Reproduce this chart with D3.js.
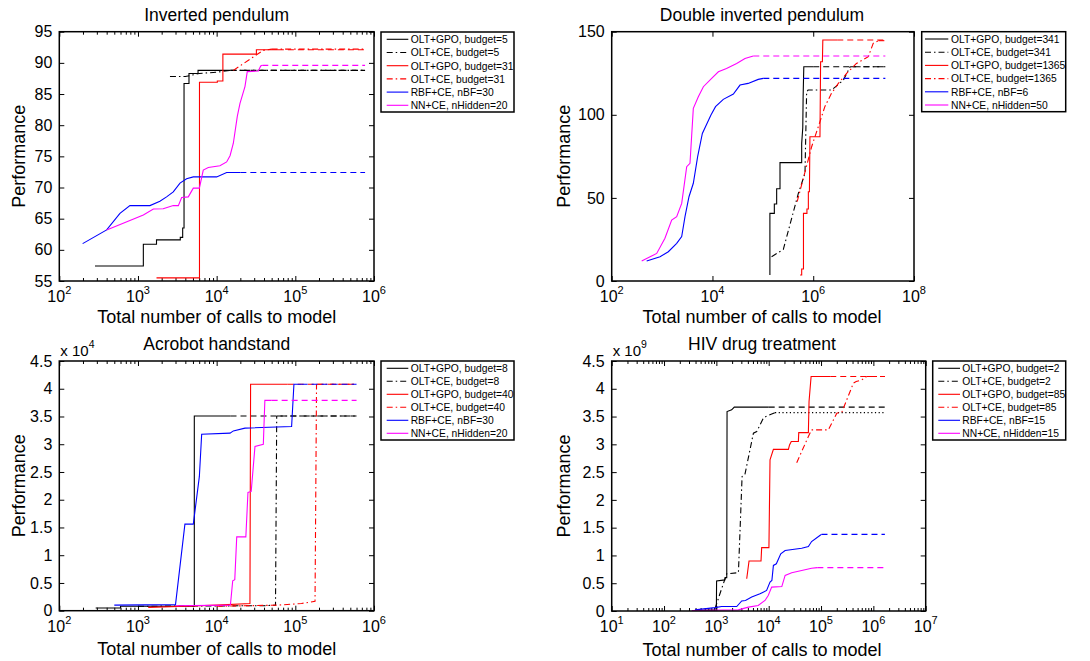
<!DOCTYPE html>
<html lang="en">
<head>
<meta charset="UTF-8">
<title>Performance vs total number of calls to model</title>
<script src="https://d3js.org/d3.v7.min.js"></script>
<style>
  body { margin: 0; background: #fff; }
  svg text { font-family: "Liberation Sans", Arial, Helvetica, sans-serif; fill: #000; }
</style>
</head>
<body>
<svg id="chart" width="1090" height="661"></svg>
<script>
// ---------------- data ----------------
// each series: [calls, performance] points of the drawn part; a dashed
// horizontal extension continues from the last point to the panel's end value

// Inverted pendulum
const ipLabels = ["OLT+GPO, budget=5", "OLT+CE, budget=5", "OLT+GPO, budget=31",
                  "OLT+CE, budget=31", "RBF+CE, nBF=30", "NN+CE, nHidden=20"];
const ipGpo5 = [[284,57.4],[1170,57.4],[1170,60.9],[1720,60.9],[1720,61.6],[3450,61.6],[3450,62],
                [3700,62],[3700,63.5],[3850,63.5],[3850,86.7],[4450,86.7],[4450,88.3],[5800,88.3],
                [5800,88.8],[1.5e4,88.8]];
const ipCe5 = [[2550,87.8],[4000,87.8],[6000,88.3],[1e4,88.5],[1.5e4,88.8]];
const ipGpo31 = [[1720,55.5],[6050,55.5],[6050,86.9],[1.02e4,86.9],[1.02e4,87.1],[1.2e4,87.1],
                 [1.2e4,91.4],[3.2e4,91.4],[3.2e4,92.1],[6e4,92.1]];
const ipCe31 = [[1.63e4,88.8],[3.9e4,92.0],[5e4,92.2]];
const ipRbf = [[198,61.0],[400,63.2],[590,65.85],[790,67.1],[1420,67.1],[1900,67.8],[2310,68.5],
               [2810,69.3],[3420,70.7],[4150,71.4],[5050,71.7],[1e4,71.7],[1.34e4,72.4],[2e4,72.4]];
const ipNn = [[400,63.2],[1170,65.6],[1570,66.55],[2090,66.6],[2810,67.1],[3260,67.1],[3590,68.4],
              [4360,68.5],[5050,69.9],[6030,69.9],[6760,72.8],[7830,73.2],[1.1e4,73.5],[1.34e4,74.1],
              [1.48e4,75.1],[1.63e4,77.1],[1.83e4,81.4],[1.98e4,83.5],[2.29e4,86.2],[2.45e4,88.6],
              [3.39e4,88.7],[3.63e4,89.5],[3.8e4,89.6]];
const ipEnd = 7.7e5;
const ipXExp = [2, 3, 4, 5, 6];
const ipYTicks = [55, 60, 65, 70, 75, 80, 85, 90, 95];

// Double inverted pendulum
const dipLabels = ["OLT+GPO, budget=341", "OLT+CE, budget=341", "OLT+GPO, budget=1365",
                   "OLT+CE, budget=1365", "RBF+CE, nBF=6", "NN+CE, nHidden=50"];
const dipGpo341 = [[1.38e5,3.6],[1.38e5,40.7],[1.69e5,40.7],[1.69e5,46.3],[1.88e5,46.3],[1.88e5,55.5],
                   [2.19e5,55.5],[2.19e5,71.2],[5.9e5,71.2],[5.9e5,82.8],[6.2e5,92.2],[6.3e5,110.9],
                   [6.5e5,128.9],[1e6,128.9]];
const dipCe341 = [[1.49e5,14.6],[2.55e5,19.0],[5.06e5,52.7],[6.86e5,64.8],[7.4e5,113.9],[7.9e5,114.9],
                  [2.32e6,114.9],[3.97e6,120.9],[5.4e6,128.9]];
const dipGpo1365 = [[5.5e5,3.6],[5.9e5,3.6],[5.9e5,7.2],[6.4e5,7.2],[6.4e5,40.7],[7.5e5,40.7],
                    [7.5e5,43.3],[8.0e5,43.3],[8.0e5,53.7],[8.4e5,53.7],[8.6e5,86.8],[1.36e6,86.8],
                    [1.4e6,131.9],[1.52e6,131.9],[1.55e6,145],[3e6,145]];
const dipCe1365 = [[4.8e5,47.7],[9.3e5,80.8],[1.26e6,92.8],[1.7e6,104.9],[2.3e6,112.9],[3.15e6,118.9],
                   [4.6e6,124.9],[7.2e6,130.9],[1.24e7,135],[1.55e7,143],[1.96e7,144.6]];
const dipRbf = [[494,12.0],[911,14.6],[1330,17.6],[1950,22.7],[2450,26.7],[2850,38.7],[3420,50.7],
                [4170,58.8],[5080,74.8],[6300,88.8],[9330,99.9],[1.15e4,104.9],[1.64e4,109.3],
                [2.6e4,112.5],[3.52e4,117.9],[5.1e4,118.9],[8.1e4,121.3],[1.02e5,121.9]];
const dipNn = [[394,12.0],[782,16.6],[1140,25.7],[1550,36.7],[1950,38.7],[2450,46.7],[3080,68.8],
               [3580,70.8],[4170,103.9],[5240,110.9],[6600,116.9],[9640,121.9],[1.31e4,125.9],
               [1.9e4,127.9],[3.02e4,130.9],[4.42e4,133.9],[6.46e4,135.4]];
const dipEnd = 2.7e7;
const dipXExp = [2, 4, 6, 8];
const dipYTicks = [0, 50, 100, 150];

// Acrobot handstand (performance in units of 1e4)
const acLabels = ["OLT+GPO, budget=8", "OLT+CE, budget=8", "OLT+GPO, budget=40",
                  "OLT+CE, budget=40", "RBF+CE, nBF=30", "NN+CE, nHidden=20"];
const acGpo8 = [[290,0.05],[600,0.05],[600,0.08],[5200,0.08],[5200,3.51],[1.5e4,3.51]];
const acCe8 = [[1000,0.08],[4e4,0.09],[5.6e4,0.1],[5.8e4,3.51]];
const acGpo40 = [[1350,0.06],[4000,0.08],[1e4,0.1],[2.65e4,0.13],[2.7e4,4.08],[8e4,4.08]];
const acCe40 = [[1e4,0.08],[6e4,0.1],[1.2e5,0.13],[1.78e5,0.17],[1.86e5,4.08]];
const acRbf = [[500,0.1],[3000,0.11],[3950,1.56],[5050,1.56],[6030,2.42],[6450,3.18],[1.48e4,3.2],
               [1.63e4,3.24],[2.29e4,3.29],[8.97e4,3.32],[9.6e4,4.08],[1.2e5,4.08]];
const acNn = [[3000,0.09],[1.48e4,0.1],[1.5e4,0.12],[1.6e4,0.54],[1.7e4,0.56],[1.8e4,1.33],
              [2.35e4,1.33],[2.5e4,2.13],[2.75e4,2.15],[3.07e4,2.96],[3.92e4,3.0],[4.1e4,3.79],
              [5e4,3.79]];
const acEnd = 6.0e5;
const acXExp = [2, 3, 4, 5, 6];
const acYTicks = [0, 0.5, 1, 1.5, 2, 2.5, 3, 3.5, 4, 4.5];

// HIV drug treatment (performance in units of 1e9)
const hivLabels = ["OLT+GPO, budget=2", "OLT+CE, budget=2", "OLT+GPO, budget=85",
                   "OLT+CE, budget=85", "RBF+CE, nBF=15", "NN+CE, nHidden=15"];
const hivGpo2 = [[400,0.01],[1000,0.02],[1010,0.54],[1450,0.56],[1470,0.6],[1580,0.6],[1600,3.59],
                 [1960,3.62],[2200,3.67],[1e4,3.67]];
const hivCe2 = [[940,0.04],[1170,0.31],[1580,0.67],[2640,0.69],[3100,2.42],[3500,2.45],[5100,3.2],
                [5900,3.23],[7900,3.47],[9120,3.51],[1.32e4,3.57]];
const hivGpo85 = [[3800,0.58],[4210,0.9],[7130,0.9],[7340,1.14],[1.01e4,1.14],[1.06e4,2.72],
                  [1.23e4,2.91],[2.38e4,2.91],[2.5e4,2.99],[2.7e4,3.05],[3.69e4,3.05],[3.75e4,3.21],
                  [5.73e4,3.21],[5.9e4,3.77],[6.46e4,4.22],[1.5e5,4.22]];
const hivCe85 = [[3.43e4,2.67],[5.73e4,3.14],[6.6e4,3.26],[1.38e5,3.26],[2e5,3.56],[2.5e5,3.58],
                 [4.15e5,4.1],[4.7e5,4.13],[6e5,4.16],[7.4e5,4.22]];
const hivRbf = [[390,0.02],[940,0.06],[1260,0.08],[2450,0.08],[3050,0.18],[3600,0.19],[4730,0.25],
                [6820,0.31],[9120,0.37],[1.06e4,0.52],[1.15e4,0.55],[1.23e4,0.82],[1.4e4,0.85],
                [1.7e4,1.03],[2.06e4,1.09],[4.27e4,1.13],[5.73e4,1.16],[6.6e4,1.25],[9.5e4,1.36],
                [1.02e5,1.38]];
const hivNn = [[340,0.01],[2630,0.02],[4100,0.07],[6300,0.1],[8500,0.19],[9800,0.28],[1.14e4,0.43],
               [1.78e4,0.44],[2.06e4,0.64],[2.75e4,0.69],[4.27e4,0.73],[6.6e4,0.77],[8.5e4,0.78]];
const hivEnd = 1.66e6;
const hivXExp = [1, 2, 3, 4, 5, 6, 7];
const hivYTicks = [0, 0.5, 1, 1.5, 2, 2.5, 3, 3.5, 4, 4.5];

// ---------------- styles ----------------
const DASHDOT = "6,3,1.5,3";
const seriesStyle = [
  { color: "#000", dash: null,    ext: "6,4" },
  { color: "#000", dash: DASHDOT, ext: DASHDOT },
  { color: "#f00", dash: null,    ext: "6,4" },
  { color: "#f00", dash: DASHDOT, ext: DASHDOT },
  { color: "#00f", dash: null,    ext: "6,4" },
  { color: "#f0f", dash: null,    ext: "6,4" }
];

// ---------------- layout ----------------
const panels = [
  { title: "Inverted pendulum", labels: ipLabels, series: [ipGpo5, ipCe5, ipGpo31, ipCe31, ipRbf, ipNn],
    end: ipEnd, xExp: ipXExp, minor: true, yDomain: [55, 95], yTicks: ipYTicks, mult: null,
    box: [59.3, 31.7, 374, 281], leg: [381, 32, 514, 112], legLine: [386.7, 408.3], legText: 410.7,
    titleX: 216.7, titleY: 21, xlabX: 216.7, xlabY: 323, ylabX: 25 },
  { title: "Double inverted pendulum", labels: dipLabels, series: [dipGpo341, dipCe341, dipGpo1365, dipCe1365, dipRbf, dipNn],
    end: dipEnd, xExp: dipXExp, minor: false, yDomain: [0, 150], yTicks: dipYTicks, mult: null,
    box: [611.7, 31.7, 914, 281], leg: [921.7, 31.7, 1065.7, 111.7], legLine: [925, 948.3], legText: 951,
    titleX: 762, titleY: 21, xlabX: 762, xlabY: 323, ylabX: 570 },
  { title: "Acrobot handstand", labels: acLabels, series: [acGpo8, acCe8, acGpo40, acCe40, acRbf, acNn],
    end: acEnd, xExp: acXExp, minor: true, yDomain: [0, 4.5], yTicks: acYTicks, mult: "4",
    box: [59.3, 361, 374, 610.7], leg: [381, 361, 514, 440], legLine: [386.7, 408.3], legText: 410.7,
    titleX: 216.7, titleY: 350, xlabX: 216.7, xlabY: 655, ylabX: 25 },
  { title: "HIV drug treatment", labels: hivLabels, series: [hivGpo2, hivCe2, hivGpo85, hivCe85, hivRbf, hivNn],
    end: hivEnd, xExp: hivXExp, minor: true, yDomain: [0, 4.5], yTicks: hivYTicks, mult: "9",
    box: [611.7, 361, 925.7, 611], leg: [932.7, 361, 1065.7, 440], legLine: [938.3, 960], legText: 962.3,
    titleX: 762, titleY: 350, xlabX: 762, xlabY: 656, ylabX: 570, dottedExt: 1 }
];

const svg = d3.select("#chart");
const FONT = '"Liberation Sans", Arial, Helvetica, sans-serif';

panels.forEach(p => {
  const [x0, y0, x1, y1] = p.box;
  const g = svg.append("g");
  const lo = p.xExp[0], hi = p.xExp[p.xExp.length - 1];
  const x = d3.scaleLog().domain([Math.pow(10, lo), Math.pow(10, hi)]).range([x0, x1]);
  const y = d3.scaleLinear().domain(p.yDomain).range([y1, y0]);

  const majors = p.xExp.map(e => Math.pow(10, e));
  const minors = [];
  if (p.minor) {
    for (let e = lo; e < hi; e++) for (let m = 2; m <= 9; m++) minors.push(m * Math.pow(10, e));
  }

  const styleAxis = a => {
    a.select(".domain").remove();
    a.selectAll(".tick line").attr("stroke", "#000").attr("stroke-width", 1);
  };

  // x ticks, bottom and top, pointing inwards
  g.append("g").attr("transform", `translate(0,${y1})`)
    .call(d3.axisBottom(x).tickValues(majors).tickSize(-5).tickFormat("")).call(styleAxis);
  g.append("g").attr("transform", `translate(0,${y0})`)
    .call(d3.axisTop(x).tickValues(majors).tickSize(-5).tickFormat("")).call(styleAxis);
  if (minors.length) {
    g.append("g").attr("transform", `translate(0,${y1})`)
      .call(d3.axisBottom(x).tickValues(minors).tickSize(-3).tickFormat("")).call(styleAxis);
    g.append("g").attr("transform", `translate(0,${y0})`)
      .call(d3.axisTop(x).tickValues(minors).tickSize(-3).tickFormat("")).call(styleAxis);
  }

  // y ticks, left with labels and right
  const yl = g.append("g").attr("transform", `translate(${x0},0)`)
    .call(d3.axisLeft(y).tickValues(p.yTicks).tickSize(-5).tickPadding(7).tickFormat(d => String(d)))
    .call(styleAxis);
  yl.attr("font-family", FONT).attr("font-size", 16);
  g.append("g").attr("transform", `translate(${x1},0)`)
    .call(d3.axisRight(y).tickValues(p.yTicks).tickSize(-5).tickFormat("")).call(styleAxis);

  // x tick labels 10^k
  majors.forEach((v, i) => {
    const t = g.append("text").attr("x", x(v)).attr("y", y1 + 21)
      .attr("text-anchor", "middle").attr("font-size", 16);
    t.append("tspan").text("10");
    t.append("tspan").attr("dy", -8).attr("font-size", 11).text(String(p.xExp[i]));
  });

  // multiplier label
  if (p.mult) {
    const t = g.append("text").attr("x", x0 + 1).attr("y", y0 - 5).attr("font-size", 15);
    t.append("tspan").text("x 10");
    t.append("tspan").attr("dy", -8).attr("font-size", 10.5).text(p.mult);
  }

  // series
  const line = d3.line().x(d => x(d[0])).y(d => y(d[1]));
  p.series.forEach((pts, i) => {
    const s = seriesStyle[i];
    const last = pts[pts.length - 1];
    const ext = (p.dottedExt === i) ? "1.2,2.5" : s.ext;
    g.append("path").datum([last, [p.end, last[1]]]).attr("d", line)
      .attr("fill", "none").attr("stroke", s.color).attr("stroke-width", 1.1)
      .attr("stroke-dasharray", ext);
    g.append("path").datum(pts).attr("d", line)
      .attr("fill", "none").attr("stroke", s.color).attr("stroke-width", 1.1)
      .attr("stroke-dasharray", s.dash);
  });

  // plot box
  g.append("rect").attr("x", x0).attr("y", y0).attr("width", x1 - x0).attr("height", y1 - y0)
    .attr("fill", "none").attr("stroke", "#000").attr("stroke-width", 1.5);

  // titles and axis labels
  g.append("text").attr("x", p.titleX).attr("y", p.titleY).attr("text-anchor", "middle")
    .attr("font-size", 17.5).text(p.title);
  g.append("text").attr("x", p.xlabX).attr("y", p.xlabY).attr("text-anchor", "middle")
    .attr("font-size", 18).text("Total number of calls to model");
  g.append("text").attr("transform", `translate(${p.ylabX},${(y0 + y1) / 2}) rotate(-90)`)
    .attr("text-anchor", "middle").attr("font-size", 18).text("Performance");

  // legend
  const [lx0, ly0, lx1, ly1] = p.leg;
  const lg = g.append("g");
  lg.append("rect").attr("x", lx0).attr("y", ly0).attr("width", lx1 - lx0).attr("height", ly1 - ly0)
    .attr("fill", "#fff").attr("stroke", "#000").attr("stroke-width", 1.5);
  const rowStep = (ly1 - ly0 - 14) / 5;
  p.labels.forEach((lab, i) => {
    const ry = ly0 + 7.3 + i * rowStep;
    const s = seriesStyle[i];
    lg.append("line").attr("x1", p.legLine[0]).attr("x2", p.legLine[1]).attr("y1", ry).attr("y2", ry)
      .attr("stroke", s.color).attr("stroke-width", 1.1).attr("stroke-dasharray", s.dash);
    lg.append("text").attr("x", p.legText).attr("y", ry + 3.8).attr("font-size", 10.3).text(lab);
  });
});
</script>
</body>
</html>
